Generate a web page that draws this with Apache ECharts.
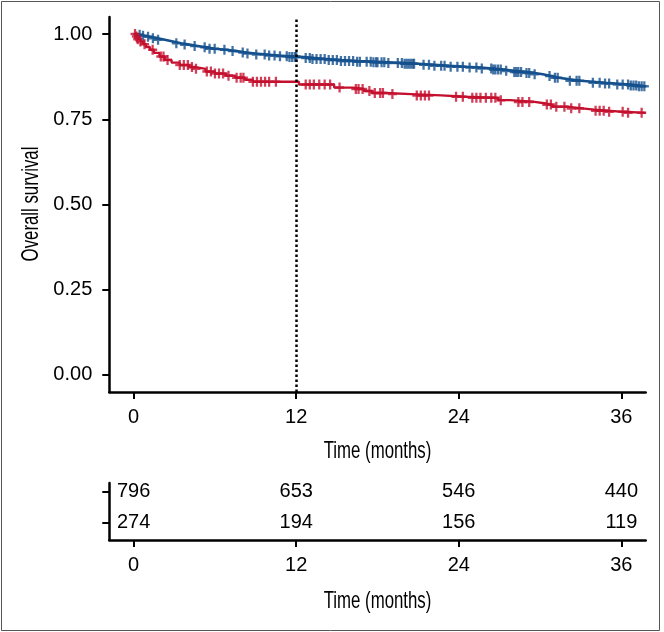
<!DOCTYPE html>
<html>
<head>
<meta charset="utf-8">
<script src="https://cdn.jsdelivr.net/npm/echarts@6/dist/echarts.min.js"></script>
<style>html,body{margin:0;padding:0;background:#fff;}#chart{width:664px;height:632px;}</style>
</head>
<body>
<div id="chart"></div>
<script>
// ---- data ----
const timeTicks = [0, 12, 24, 36];
const survTicks = [0, 0.25, 0.5, 0.75, 1];
// Kaplan-Meier steps [time (months), survival]
const blueCurve = [[0,1.0],[0.2,0.998],[0.5,0.995],[0.8,0.992],[1.2,0.988],[1.7,0.983],[2.3,0.978],[2.9,0.973],[3.5,0.969],[4.1,0.965],[4.7,0.961],[5.4,0.957],[6.0,0.954],[6.8,0.950],[7.6,0.946],[8.3,0.943],[9.0,0.940],[9.8,0.937],[10.7,0.935],[11.5,0.933],[12.3,0.930],[13.2,0.927],[14.2,0.924],[15.3,0.921],[16.5,0.919],[17.6,0.917],[18.8,0.915],[19.9,0.913],[21.0,0.910],[22.2,0.907],[23.3,0.904],[24.5,0.902],[25.6,0.899],[26.5,0.896],[27.3,0.892],[28.1,0.889],[28.9,0.886],[29.6,0.882],[30.2,0.877],[30.8,0.872],[31.4,0.867],[32.2,0.863],[33.0,0.860],[33.9,0.857],[34.8,0.855],[35.6,0.852],[36.6,0.849],[37.3,0.847],[37.8,0.847]];
const redCurve = [[0,1.0],[0.15,0.993],[0.3,0.985],[0.5,0.978],[0.7,0.970],[0.9,0.962],[1.2,0.954],[1.5,0.945],[1.9,0.934],[2.3,0.924],[2.8,0.916],[3.4,0.909],[4.1,0.903],[4.6,0.898],[5.3,0.890],[6.0,0.884],[6.8,0.878],[7.5,0.872],[8.2,0.866],[8.8,0.860],[12.2,0.852],[14.8,0.843],[16.2,0.839],[17.0,0.833],[17.6,0.827],[18.6,0.824],[20.5,0.820],[22.7,0.816],[24.5,0.813],[26.9,0.806],[27.8,0.801],[29.6,0.797],[30.3,0.793],[30.9,0.787],[32.0,0.782],[33.1,0.778],[34.0,0.775],[35.0,0.772],[36.2,0.769],[37.8,0.769]];
// censoring times (months)
const blueCensor = [0.44,0.69,1.06,1.42,1.8,3.15,3.76,4.5,5.24,5.6,5.98,6.7,7.3,8.05,8.4,9.05,9.67,10.0,10.4,10.8,11.3,11.5,11.7,11.9,12.0,12.7,13.0,13.2,13.5,13.8,14.1,14.4,14.7,15.0,15.3,15.6,15.9,16.2,16.5,16.7,17.2,17.5,17.7,17.9,18.0,18.3,18.5,18.8,19.5,19.8,20.0,20.15,20.3,20.45,20.6,20.7,21.4,21.8,22.2,22.7,22.95,23.4,23.9,24.3,24.8,25.3,25.7,26.4,26.55,26.7,26.9,27.1,27.5,28.1,28.25,28.4,28.6,29.0,29.2,29.6,30.7,31.1,31.3,32.2,32.7,32.9,33.9,34.4,34.8,35.1,35.7,36.1,36.5,36.7,36.9,37.1,37.3,37.5,37.7];
const redCensor = [0.1,0.2,0.3,0.5,0.8,1.4,2.0,2.2,2.5,3.4,3.7,4.0,4.3,4.6,5.4,5.7,6.0,6.3,6.6,7.0,7.6,7.9,8.1,8.8,9.1,9.4,9.7,10.0,10.5,12.7,13.0,13.3,13.7,14.1,14.5,15.2,16.4,16.6,16.9,17.4,17.8,18.2,18.4,19.1,20.9,21.2,21.5,21.8,23.8,24.3,25.0,25.3,25.6,26.0,26.4,26.7,27.1,28.4,28.7,29.2,30.5,30.8,31.2,31.8,32.3,32.9,34.1,34.4,34.7,35.1,36.1,36.5,37.5];
// number at risk
const riskTimes = [0, 12, 24, 36];
const riskBlue = [796, 653, 546, 440];
const riskRed = [274, 194, 156, 119];

// ---- styles ----
const BLUE = '#14508d';
const RED = '#c4102e';
const FONT = 'Liberation Sans';
const TXT = '#000';

function survAt(curve, t) {
  let s = curve[0][1];
  for (const p of curve) { if (p[0] <= t) s = p[1]; else break; }
  return s;
}
const plus = 'path://M5,0L5,10M0,5L10,5';

const axisLineStyle = { show: true, onZero: false, lineStyle: { color: '#000', width: 2.5 } };
const tickStyle = { show: true, length: 7, lineStyle: { color: '#000', width: 2 } };
const labelStyle = { color: TXT, fontSize: 20, fontFamily: FONT };
const riskLabel = { show: true, position: 'inside', formatter: p => String(p.value[2]),
  color: TXT, fontSize: 20, fontFamily: FONT, textBorderWidth: 0, textBorderColor: 'transparent', opacity: 1 };

const chart = echarts.init(document.getElementById('chart'), null, { renderer: 'canvas' });
chart.setOption({
  animation: false,
  backgroundColor: '#fff',
  grid: [
    { left: 109.3, right: 18.3, top: 17, bottom: 240, containLabel: false },
    { left: 109.3, right: 18.3, top: 483, bottom: 92, containLabel: false }
  ],
  xAxis: [
    { type: 'value', gridIndex: 0, min: -1.8, max: 37.8,
      axisLine: axisLineStyle,
      axisTick: Object.assign({}, tickStyle, { customValues: timeTicks }),
      axisLabel: Object.assign({}, labelStyle, { customValues: timeTicks, margin: 15 }),
      splitLine: { show: false } },
    { type: 'value', gridIndex: 1, min: -1.8, max: 37.8,
      axisLine: axisLineStyle,
      axisTick: Object.assign({}, tickStyle, { customValues: timeTicks }),
      axisLabel: Object.assign({}, labelStyle, { customValues: timeTicks, margin: 15 }),
      splitLine: { show: false } }
  ],
  yAxis: [
    { type: 'value', gridIndex: 0, min: -0.05, max: 1.05,
      axisLine: axisLineStyle,
      axisTick: Object.assign({}, tickStyle, { customValues: survTicks }),
      axisLabel: Object.assign({}, labelStyle, { customValues: survTicks, margin: 17,
        formatter: v => Number(v).toFixed(2) }),
      splitLine: { show: false } },
    { type: 'value', gridIndex: 1, min: 0.44, max: 2.29,
      axisLine: axisLineStyle,
      axisTick: Object.assign({}, tickStyle, { customValues: [1, 2] }),
      axisLabel: { show: false },
      splitLine: { show: false } }
  ],
  series: [
    { type: 'line', name: 'blue', xAxisIndex: 0, yAxisIndex: 0, step: 'end', showSymbol: false,
      data: blueCurve, lineStyle: { color: BLUE, width: 2.6 }, z: 3,
      markLine: { silent: true, symbol: 'none', label: { show: false },
        lineStyle: { color: '#000', type: [2.5, 2.5], width: 2.5 },
        data: [{ xAxis: 12 }] } },
    { type: 'line', name: 'red', xAxisIndex: 0, yAxisIndex: 0, step: 'end', showSymbol: false,
      data: redCurve, lineStyle: { color: RED, width: 2.3 }, z: 3 },
    { type: 'scatter', xAxisIndex: 0, yAxisIndex: 0, symbol: plus, symbolSize: [9, 10],
      data: blueCensor.map(t => [t, survAt(blueCurve, t)]),
      itemStyle: { color: 'none', borderColor: BLUE, borderWidth: 2.4 }, z: 4 },
    { type: 'scatter', xAxisIndex: 0, yAxisIndex: 0, symbol: plus, symbolSize: [9, 10],
      data: redCensor.map(t => [t, survAt(redCurve, t)]),
      itemStyle: { color: 'none', borderColor: RED, borderWidth: 2.4 }, z: 4 },
    { type: 'scatter', xAxisIndex: 1, yAxisIndex: 1, symbolSize: 0,
      itemStyle: { color: '#000', opacity: 1 },
      data: riskTimes.map((t, i) => [t, 2, riskBlue[i]]),
      label: riskLabel },
    { type: 'scatter', xAxisIndex: 1, yAxisIndex: 1, symbolSize: 0,
      itemStyle: { color: '#000', opacity: 1 },
      data: riskTimes.map((t, i) => [t, 1, riskRed[i]]),
      label: riskLabel }
  ],
  graphic: [
    { type: 'rect', shape: { x: 1.5, y: 1.5, width: 658, height: 629 },
      style: { fill: 'none', stroke: '#555', lineWidth: 1 }, silent: true, z: -1 },
    { type: 'text', x: 377.5, y: 451, scaleX: 0.7,
      style: { text: 'Time (months)', fontSize: 24, fontFamily: FONT, fill: TXT, align: 'center', verticalAlign: 'middle' } },
    { type: 'text', x: 377.5, y: 601, scaleX: 0.7,
      style: { text: 'Time (months)', fontSize: 24, fontFamily: FONT, fill: TXT, align: 'center', verticalAlign: 'middle' } },
    { type: 'text', x: 31, y: 204, rotation: Math.PI / 2, scaleX: 0.7,
      style: { text: 'Overall survival', fontSize: 24, fontFamily: FONT, fill: TXT, align: 'center', verticalAlign: 'middle' } }
  ]
});
</script>
</body>
</html>
